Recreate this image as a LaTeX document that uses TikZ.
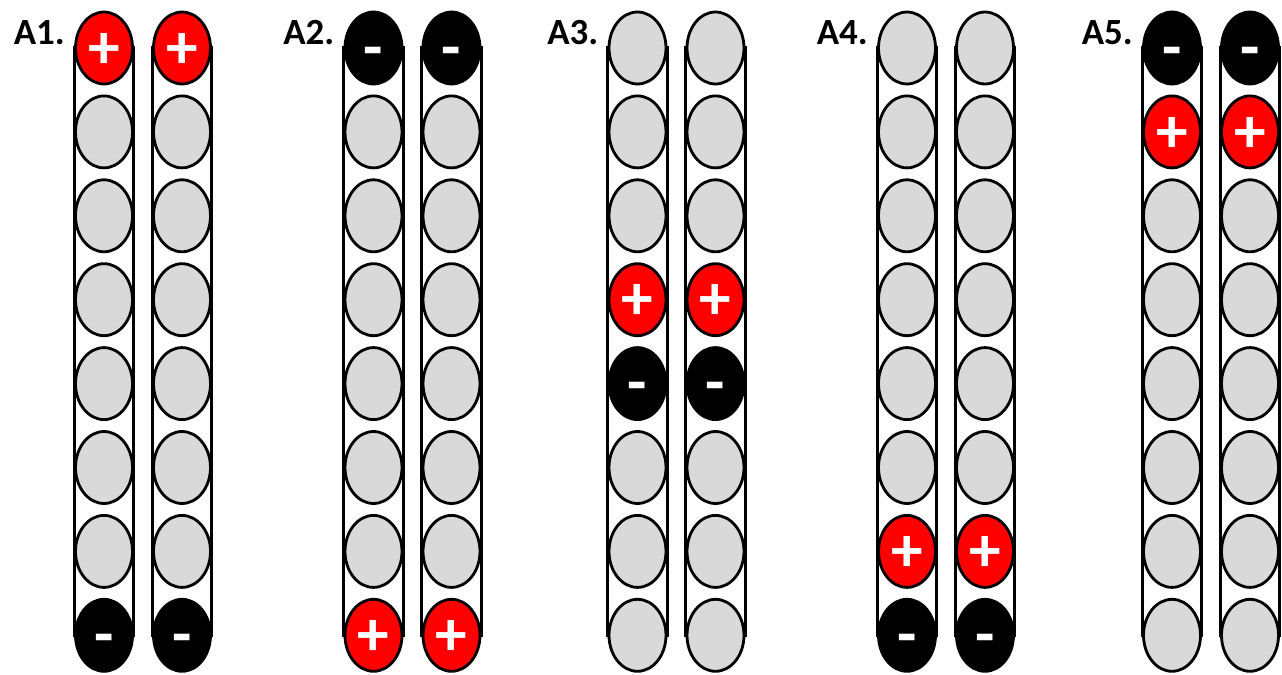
\documentclass[tikz,border=0pt]{standalone}
\usepackage{fontspec}
\setmainfont{Carlito}
\usetikzlibrary{shapes.geometric,positioning,backgrounds}
\definecolor{cellgrey}{RGB}{217,217,217}
\definecolor{cellred}{RGB}{255,0,0}

\begin{document}
\begin{tikzpicture}[
    x=0.02cm, y=-0.02cm,
    cell/.style={ellipse, draw=black, line width=1.6pt, inner sep=0pt,
        minimum width=1.14cm, minimum height=1.44cm,
        text=white, font=\fontsize{36}{36}\selectfont\bfseries,
        text height=23pt, text depth=0pt},
    cellg/.style={cell, fill=cellgrey, node contents={}},
    cellp/.style={cell, fill=cellred, node contents={+}},
    cellm/.style={cell, fill=black, node contents={-}},
    tube/.style={draw=black, line width=1.8pt},
    grouplab/.style={font=\fontsize{21}{21}\selectfont\bfseries,
        inner sep=0pt, anchor=base east}
]
\useasboundingbox (0,0) rectangle (1282,675);

% two tubes per group, eight cells each
\foreach \g/\gx/\cells in {A1/104/{p,g,g,g,g,g,g,m},
                           A2/373.5/{m,g,g,g,g,g,g,p},
                           A3/637.5/{g,g,g,p,m,g,g,g},
                           A4/907/{g,g,g,g,g,g,p,m},
                           A5/1172/{m,p,g,g,g,g,g,g}}{
  \foreach \k/\dx in {1/0, 2/78}{
    \foreach \c [count=\i] in \cells
      \node[cell\c, name=\g-\k-\i, at={(\gx+\dx, 48+83.9*\i-83.9)}];
    \begin{scope}[on background layer]
      \draw[tube] (\g-\k-1.west) rectangle (\g-\k-8.east);
    \end{scope}
  }
  \node[grouplab] (lab-\g) at ([xshift=-0.18cm, yshift=0.06cm]\g-1-1.west) {\g.};
}
\end{tikzpicture}
\end{document}
